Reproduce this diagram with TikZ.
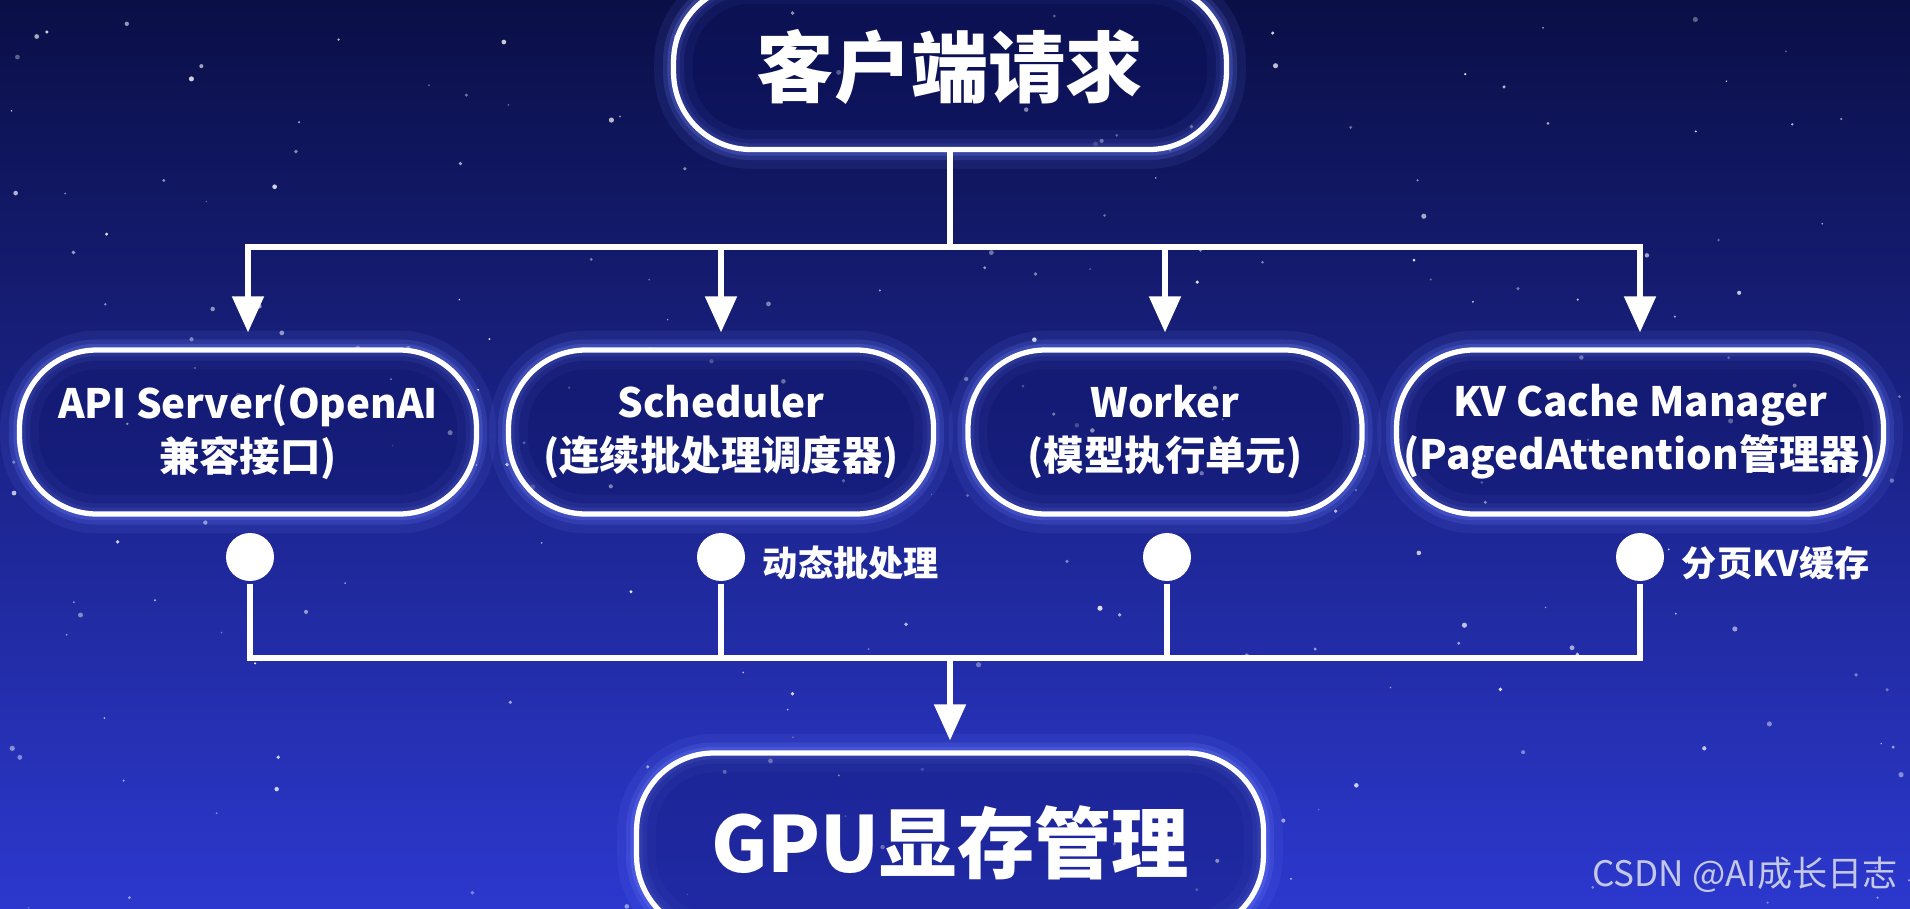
\documentclass[tikz,border=0pt]{standalone}
\usepackage{fontspec}
\setmainfont{Noto Sans CJK SC}
\usetikzlibrary{arrows.meta,positioning}
\definecolor{bgtop}{RGB}{10,15,70}
\definecolor{bgmid}{RGB}{26,36,150}
\definecolor{bgbot}{RGB}{44,56,206}
\definecolor{glowblue}{RGB}{110,130,255}
\definecolor{boxfill}{RGB}{14,20,100}
\definecolor{wmgrey}{RGB}{196,200,228}

\begin{document}
\begin{tikzpicture}[x=0.02cm,y=-0.02cm,
		line width=2.9pt,draw=white,
		>={Triangle[length=0.72cm,width=0.62cm]},
		main node/.style={rectangle,rounded corners=44pt,draw=white,line width=3pt,
			fill=boxfill,fill opacity=0.4,text opacity=1,text=white,align=center,inner sep=0pt,
			preaction={draw=glowblue,line width=22pt,opacity=0.1},
			preaction={draw=glowblue,line width=12pt,opacity=0.18},
			preaction={draw=glowblue,line width=7pt,opacity=0.25}},
		big node/.style={main node,minimum height=3.3cm,font=\fontsize{44}{50}\selectfont\bfseries},
		small node/.style={main node,minimum height=3.28cm,font=\fontsize{23}{30}\selectfont\bfseries},
		dot node/.style={circle,fill=white,minimum size=0.96cm,inner sep=0pt},
		note text/.style={text=white,font=\fontsize{20}{24}\selectfont\bfseries}]
		
		\useasboundingbox (0,0) rectangle (1910,909);
		\clip (0,0) rectangle (1910,909);
		
		% sky
		\shade[top color=bgtop,middle color=bgmid,bottom color=bgbot] (0,0) rectangle (1910,909);
		\pgfmathsetseed{42}
		\foreach \i in {1,...,220}{
			\pgfmathsetmacro{\sx}{rnd*1910}
			\pgfmathsetmacro{\sy}{rnd*909}
			\pgfmathsetmacro{\sr}{0.4+rnd*1.1}
			\pgfmathsetmacro{\so}{0.3+rnd*0.6}
			\fill[white,opacity=\so] (\sx,\sy) circle (\sr pt);
		}
		
		\node[big node,minimum width=11.06cm] (0) at (950,67) {客户端请求};
		\node[small node,minimum width=9.14cm] (1) at (248,432) {API Server(OpenAI\\兼容接口)};
		\node[small node,minimum width=8.5cm] (2) at (721,432) {Scheduler\\(连续批处理调度器)};
		\node[small node,minimum width=7.88cm] (3) at (1165,432) {Worker\\(模型执行单元)};
		\node[small node,minimum width=9.74cm] (4) at (1640,432) {KV Cache Manager\\(PagedAttention管理器)};
		\node[big node,minimum width=12.54cm,minimum height=3.6cm] (5) at (950,843) {GPU显存管理};
		
		\node[dot node] (d1) at (250,557) {};
		\node[dot node,label={[note text,label distance=0.14cm,yshift=-0.12cm]right:动态批处理}] (d2) at (721,557) {};
		\node[dot node] (d3) at (1167,557) {};
		\node[dot node,label={[note text,label distance=0.14cm,yshift=-0.12cm]right:分页KV缓存}] (d4) at (1640,557) {};
		
		\node[font=\fontsize{20}{24}\selectfont,text=wmgrey,anchor=east] (wm) at (1906,875) {CSDN @AI成长日志};
		
		\coordinate (split) at (950,247);
		\coordinate (join) at (950,658);
		
		\draw (0) -- (split);
		\draw[->,shorten >=0.3cm] (split) -| (1);
		\draw[->,shorten >=0.3cm] (split) -| (4);
		\draw[->,shorten >=0.3cm] (split -| 2) -- (2);
		\draw[->,shorten >=0.3cm] (split -| 3) -- (3);
		
		\draw (d1) |- (join);
		\draw (d4) |- (join);
		\draw (d2) -- (d2 |- join);
		\draw (d3) -- (d3 |- join);
		\draw[->,shorten >=0.2cm] (join) -- (5);
\end{tikzpicture}
\end{document}
